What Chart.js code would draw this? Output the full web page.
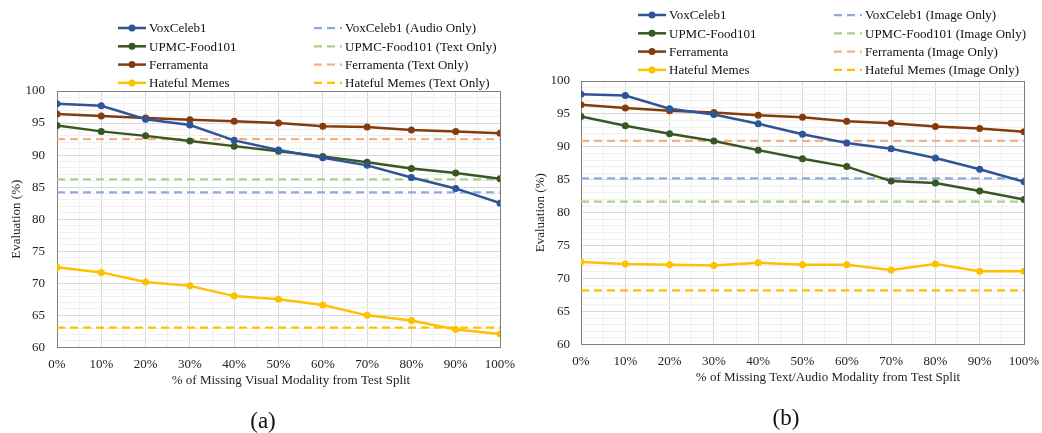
<!DOCTYPE html>
<html>
<head>
<meta charset="utf-8">
<script src="https://cdn.jsdelivr.net/npm/chart.js@4.4.1/dist/chart.umd.min.js"></script>
<style>
	body { margin: 0; background: #fff; }
	.row { display: flex; width: 1042px; height: 433px; }
</style>
</head>
<body>
<div class="row">
	<canvas id="chartA" width="520" height="433"></canvas>
	<canvas id="chartB" width="522" height="433"></canvas>
</div>
<script>
// ---------------------------------------- Data ----------------------------------------

const missingPct = [0, 10, 20, 30, 40, 50, 60, 70, 80, 90, 100];
const seriesNames = ["VoxCeleb1", "UPMC-Food101", "Ferramenta", "Hateful Memes"];

// (a) missing visual modality
const voxA = [98.0, 97.7, 95.6, 94.7, 92.3, 90.8, 89.6, 88.4, 86.5, 84.8, 82.5];
const foodA = [94.6, 93.7, 93.0, 92.2, 91.4, 90.6, 89.8, 88.9, 87.9, 87.2, 86.3];
const ferrA = [96.4, 96.1, 95.8, 95.5, 95.3, 95.0, 94.5, 94.4, 93.9, 93.7, 93.4];
const memesA = [72.5, 71.7, 70.2, 69.6, 68.0, 67.5, 66.6, 65.0, 64.2, 62.8, 62.1];
const baseA = [84.2, 86.2, 92.5, 63.1];
const baseLabelsA = ["(Audio Only)", "(Text Only)", "(Text Only)", "(Text Only)"];

// (b) missing text/audio modality
const voxB = [98.0, 97.8, 95.8, 94.9, 93.5, 91.9, 90.6, 89.7, 88.3, 86.6, 84.7];
const foodB = [94.6, 93.2, 92.0, 90.9, 89.5, 88.2, 87.0, 84.8, 84.5, 83.3, 82.0];
const ferrB = [96.4, 95.9, 95.5, 95.2, 94.8, 94.5, 93.9, 93.6, 93.1, 92.8, 92.3];
const memesB = [72.5, 72.2, 72.1, 72.0, 72.4, 72.1, 72.1, 71.3, 72.2, 71.1, 71.1];
const baseB = [85.2, 81.7, 90.9, 68.2];
const baseLabelsB = ["(Image Only)", "(Image Only)", "(Image Only)", "(Image Only)"];

const solidColors = ["#2f5597", "#385723", "#843c0c", "#ffc000"];
const dashColors = ["#8faadc", "#a9d18e", "#f4b183", "#ffc000"];

Chart.defaults.font.family = '"Liberation Serif", "Times New Roman", serif';
Chart.defaults.color = "#222";

// ---------------------------------------- Plugins ----------------------------------------

// two-column legend: solid series left, dashed baselines right
const gridLegend = {
	id: "gridLegend",
	afterDraw(chart, args, opts) {
		const ctx = chart.ctx;
		ctx.save();
		ctx.font = '13px "Liberation Serif"';
		ctx.textBaseline = "middle";
		chart.data.datasets.forEach((ds, i) => {
			const col = Math.floor(i / 4);
			const row = i % 4;
			const x = opts.x + col * opts.colGap;
			const y = opts.y + row * opts.rowGap;
			ctx.strokeStyle = ds.borderColor;
			ctx.lineWidth = ds.borderWidth;
			ctx.setLineDash(ds.borderDash || []);
			ctx.beginPath();
			ctx.moveTo(x, y);
			ctx.lineTo(x + 28, y);
			ctx.stroke();
			ctx.setLineDash([]);
			if (ds.pointRadius > 0) {
				ctx.fillStyle = ds.borderColor;
				ctx.beginPath();
				ctx.arc(x + 14, y, ds.pointRadius, 0, Math.PI * 2);
				ctx.fill();
			}
			ctx.fillStyle = "#111";
			ctx.fillText(ds.label, x + 31, y + 1);
		});
		ctx.restore();
	},
};

// plot frame + x-axis title + figure caption
const plotFrame = {
	id: "plotFrame",
	beforeDatasetsDraw(chart) {
		const a = chart.chartArea;
		const ctx = chart.ctx;
		ctx.save();
		ctx.strokeStyle = "#7f7f7f";
		ctx.lineWidth = 1;
		ctx.strokeRect(Math.round(a.left) + 0.5, Math.round(a.top) + 0.5, Math.round(a.width), Math.round(a.height));
		ctx.restore();
	},
	afterDraw(chart, args, opts) {
		const a = chart.chartArea;
		const ctx = chart.ctx;
		ctx.save();
		ctx.textAlign = "center";
		ctx.textBaseline = "middle";
		ctx.fillStyle = "#222";
		ctx.font = '13px "Liberation Serif"';
		ctx.fillText(opts.xTitle, opts.xTitleX, a.bottom + 33);
		ctx.fillStyle = "#111";
		ctx.font = '23px "Liberation Serif"';
		ctx.fillText(opts.caption, opts.captionX, a.bottom + 75);
		ctx.restore();
	},
};

// ---------------------------------------- Charts ----------------------------------------

function buildChart(canvasId, lines, baselines, baseLabels, cfg) {
	const datasets = [];
	lines.forEach((vals, i) => {
		datasets.push({
			label: seriesNames[i],
			data: vals.map((v, j) => ({ x: missingPct[j], y: v })),
			borderColor: solidColors[i],
			backgroundColor: solidColors[i],
			borderWidth: 2.5,
			pointRadius: 3.5,
			pointBorderWidth: 0,
		});
	});
	baselines.forEach((v, i) => {
		datasets.push({
			label: seriesNames[i] + " " + baseLabels[i],
			data: [{ x: 0, y: v }, { x: 100, y: v }],
			borderColor: dashColors[i],
			backgroundColor: dashColors[i],
			borderWidth: 2.25,
			borderDash: [8, 5],
			pointRadius: 0,
		});
	});

	return new Chart(document.getElementById(canvasId), {
		type: "line",
		data: { datasets: datasets },
		plugins: [gridLegend, plotFrame],
		options: {
			responsive: false,
			animation: false,
			layout: {
				padding: { top: cfg.padTop, left: cfg.padLeft, right: cfg.padRight, bottom: cfg.padBottom },
			},
			plugins: {
				legend: { display: false },
				tooltip: { enabled: false },
				gridLegend: { x: 118, y: cfg.legendY, colGap: 196, rowGap: 18.3 },
				plotFrame: {
					xTitle: cfg.xTitle,
					xTitleX: cfg.xTitleX,
					caption: cfg.caption,
					captionX: cfg.captionX,
				},
			},
			scales: {
				x: {
					type: "linear",
					min: 0,
					max: 100,
					afterFit: (scale) => {
						scale.paddingRight = 0;
					},
					grid: {
						drawTicks: false,
						color: (c) => (c.tick && c.tick.value % 10 === 0 ? "#d9d9d9" : "#f0f0f0"),
					},
					border: { display: false },
					ticks: {
						stepSize: 5,
						autoSkip: false,
						maxRotation: 0,
						padding: 9,
						font: { size: 13 },
						callback: (v) => (v % 10 === 0 ? v + "%" : ""),
					},
				},
				y: {
					min: 60,
					max: 100,
					afterFit: (scale) => {
						scale.width = cfg.yWidth;
					},
					grid: {
						drawTicks: false,
						color: (c) => (c.tick && c.tick.value % 5 === 0 ? "#d9d9d9" : "#f0f0f0"),
					},
					border: { display: false },
					ticks: {
						stepSize: 1,
						autoSkip: false,
						padding: cfg.yTickPad,
						font: { size: 13 },
						callback: (v) => (v % 5 === 0 ? v : ""),
					},
					title: {
						display: true,
						text: "Evaluation (%)",
						font: { size: 13 },
						padding: 0,
					},
				},
			},
		},
	});
}

const chartA = buildChart("chartA", [voxA, foodA, ferrA, memesA], baseA, baseLabelsA, {
	xTitle: "% of Missing Visual Modality from Test Split",
	xTitleX: 291,
	caption: "(a)",
	captionX: 263,
	legendY: 28,
	padTop: 91,
	padLeft: 9,
	padRight: 20,
	padBottom: 52,
	yWidth: 48,
	yTickPad: 12,
});
const chartB = buildChart("chartB", [voxB, foodB, ferrB, memesB], baseB, baseLabelsB, {
	xTitle: "% of Missing Text/Audio Modality from Test Split",
	xTitleX: 308,
	caption: "(b)",
	captionX: 266,
	legendY: 15,
	padTop: 81,
	padLeft: 13,
	padRight: 18,
	padBottom: 55,
	yWidth: 48,
	yTickPad: 11,
});
</script>
</body>
</html>
